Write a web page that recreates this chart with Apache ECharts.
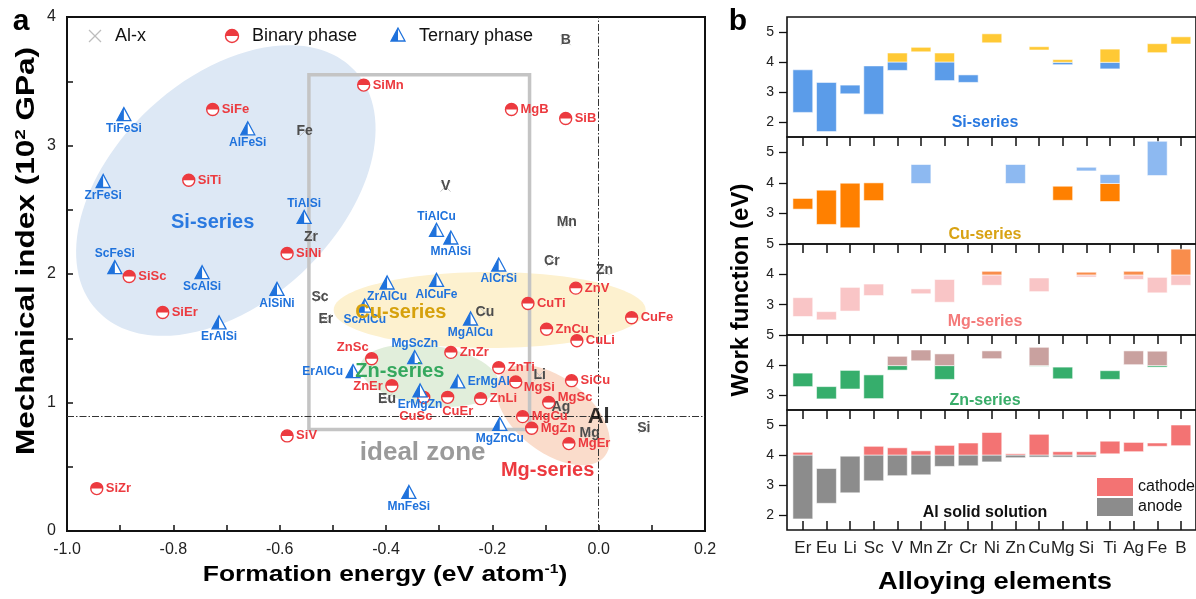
<!DOCTYPE html>
<html>
<head>
<meta charset="utf-8">
<script src="https://cdn.jsdelivr.net/npm/echarts@6/dist/echarts.min.js"></script>
<style>
  html, body { margin: 0; padding: 0; background: #fff; }
  #main { width: 1196px; height: 599px; }
</style>
</head>
<body>
<div id="main"></div>
<script>
const FONT = '"Liberation Sans", Arial, sans-serif';
const RED = '#ec3a3f';
const BLUE = '#1f72dc';

// ---------- panel a: formation energy vs mechanical index ----------
const alxNames  = ['B', 'Fe', 'V', 'Mn', 'Zr', 'Cr', 'Zn', 'Sc', 'Er', 'Cu', 'Li', 'Eu', 'Ag', 'Mg', 'Si'];
const alxEnergy = [-0.062, -0.553, -0.288, -0.060, -0.541, -0.088, 0.011, -0.524, -0.513, -0.214, -0.111, -0.398, -0.071, -0.017, 0.085];
const alxIndex  = [3.82, 3.11, 2.68, 2.40, 2.29, 2.10, 2.03, 1.82, 1.65, 1.70, 1.21, 1.03, 0.96, 0.76, 0.80];

const binaryNames  = ['SiMn', 'SiFe', 'SiTi', 'SiNi', 'SiSc', 'SiEr', 'MgB', 'SiB', 'ZnV', 'CuTi', 'CuFe', 'ZnCu', 'CuLi', 'ZnSc',
                      'ZnZr', 'ZnTi', 'ZnEr', 'MgSi', 'SiCu', 'CuSc', 'CuEr', 'ZnLi', 'MgSc', 'MgCu', 'MgZn', 'MgEr', 'SiV', 'SiZr'];
const binaryEnergy = [-0.442, -0.726, -0.771, -0.586, -0.883, -0.820, -0.164, -0.062, -0.043, -0.133, 0.062, -0.098, -0.041, -0.427,
                      -0.278, -0.188, -0.389, -0.156, -0.051, -0.329, -0.284, -0.222, -0.094, -0.143, -0.126, -0.056, -0.586, -0.944];
const binaryIndex  = [3.47, 3.28, 2.73, 2.16, 1.98, 1.70, 3.28, 3.21, 1.89, 1.77, 1.66, 1.57, 1.48, 1.34,
                      1.39, 1.27, 1.13, 1.16, 1.17, 1.04, 1.04, 1.03, 1.00, 0.89, 0.80, 0.68, 0.74, 0.33];

const ternaryNames  = ['TiFeSi', 'AlFeSi', 'ZrFeSi', 'TiAlSi', 'ScFeSi', 'ScAlSi', 'AlSiNi', 'ErAlSi', 'TiAlCu', 'MnAlSi', 'AlCrSi',
                       'ZrAlCu', 'AlCuFe', 'ScAlCu', 'MgAlCu', 'MgScZn', 'ErAlCu', 'ErMgAl', 'ErMgZn', 'MgZnCu', 'MnFeSi'];
const ternaryEnergy = [-0.893, -0.660, -0.932, -0.554, -0.910, -0.746, -0.605, -0.714, -0.305, -0.278, -0.188,
                       -0.398, -0.305, -0.440, -0.241, -0.346, -0.462, -0.265, -0.336, -0.186, -0.357];
const ternaryIndex  = [3.24, 3.13, 2.72, 2.44, 2.05, 2.01, 1.88, 1.62, 2.34, 2.28, 2.07,
                       1.93, 1.95, 1.75, 1.65, 1.35, 1.24, 1.16, 1.09, 0.83, 0.30];

const alRef = [0, 0.89];                       // pure Al reference (dash-dot cross)
const idealZone = [-0.545, -0.13, 0.79, 3.55]; // xmin, xmax, ymin, ymax

const regionNames   = ['Si-series', 'Cu-series', 'Zn-series', 'Mg-series'];
const regionCenterX = [-0.701, -0.205, -0.318, -0.086];
const regionCenterY = [2.65, 1.72, 1.21, 0.90];

const regionTextNames = ['Si-series', 'Cu-series', 'Zn-series', 'Mg-series', 'ideal zone'];
const regionTextX     = [-0.726, -0.372, -0.374, -0.096, -0.331];
const regionTextY     = [2.40, 1.70, 1.245, 0.47, 0.61];

// ---------- panel b: work function ranges ----------
const elements = ['Er', 'Eu', 'Li', 'Sc', 'V', 'Mn', 'Zr', 'Cr', 'Ni', 'Zn', 'Cu', 'Mg', 'Si', 'Ti', 'Ag', 'Fe', 'B'];

const siAnode   = [[2.32, 3.74], [1.68, 3.32], [2.94, 3.23], [2.26, 3.87], [3.72, 4.00], null, [3.38, 4.00], [3.32, 3.57], null, null, null, [3.91, 3.99], null, [3.77, 3.99], null, null, null];
const siCathode = [null, null, null, null, [4.00, 4.30], [4.34, 4.49], [4.00, 4.30], null, [4.64, 4.94], null, [4.40, 4.51], [3.99, 4.08], null, [3.99, 4.43], null, [4.31, 4.61], [4.60, 4.84]];
const cuAnode   = [[3.14, 3.49], [2.64, 3.76], [2.53, 3.99], [3.42, 4.00], null, null, null, null, null, null, null, [3.43, 3.89], null, [3.39, 3.98], null, null, null];
const cuCathode = [null, null, null, null, null, [3.98, 4.60], null, null, null, [3.98, 4.60], null, null, [4.39, 4.51], [3.98, 4.27], null, [4.24, 5.36], null];
const mgAnode   = [[2.61, 3.23], [2.50, 2.77], [2.79, 3.57], [3.30, 3.68], null, [3.36, 3.52], [3.08, 3.83], null, [3.64, 3.98], null, [3.43, 3.88], null, [3.91, 3.98], null, [3.83, 3.98], [3.39, 3.90], [3.64, 3.98]];
const mgCathode = [null, null, null, null, null, null, null, null, [3.98, 4.10], null, null, null, [3.98, 4.07], null, [3.98, 4.10], null, [3.98, 4.83]];
const znAnode   = [[3.28, 3.73], [2.87, 3.28], [3.20, 3.82], [2.88, 3.67], [3.83, 3.98], null, [3.52, 3.98], null, null, null, [3.96, 3.98], [3.54, 3.93], null, [3.52, 3.81], null, [3.93, 3.98], null];
const znCathode = [null, null, null, null, [3.98, 4.29], [4.14, 4.50], [3.98, 4.37], null, [4.21, 4.47], null, [3.98, 4.59], null, null, null, [4.01, 4.47], [3.98, 4.46], null];
const alAnode   = [[1.87, 4.00], [2.39, 3.55], [2.74, 3.96], [3.14, 4.00], [3.31, 4.00], [3.34, 4.00], [3.62, 4.00], [3.64, 4.00], [3.77, 4.00], [3.91, 4.00], [3.93, 4.00], [3.93, 4.00], [3.93, 4.00], null, null, null, null];
const alCathode = [[4.00, 4.09], null, null, [4.00, 4.29], [4.00, 4.24], [4.00, 4.14], [4.00, 4.32], [4.00, 4.40], [4.00, 4.75], [4.00, 4.04], [4.00, 4.69], [4.00, 4.11], [4.00, 4.11], [4.04, 4.46], [4.11, 4.42], [4.29, 4.40], [4.31, 5.00]];

const panelMin = [1.5, 2, 2, 2.5, 1.5];
const panelMax = [5.5, 5.5, 5, 5, 5.5];
const panelTickLabels = [[2, 3, 4, 5], [3, 4, 5], [3, 4, 5], [3, 4, 5], [2, 3, 4, 5]];
const panelMinorTicks = [[2.5, 3.5, 4.5], [2.5, 3.5, 4.5], [2.5, 3.5, 4.5], [3.5, 4.5], [2.5, 3.5, 4.5]];

// ---------- styles ----------
const binaryLabelPos = {
  ZnSc: [-3, -11, 'right'], ZnEr: [-9, 1, 'right'], MgSi: [8, 5, 'left'], CuSc: [-8, 19, 'center'],
  CuEr: [10, 14, 'center'], MgSc: [9, -5, 'left']
};
const ternaryLabelPos = {
  TiAlSi: 'top', ScFeSi: 'top', TiAlCu: 'top', MgScZn: 'top', ErAlCu: 'left', ErMgAl: 'right'
};
const regionStyle = {
  'Si-series': {rx: 176, ry: 112, rot: 43, fill: '#dde8f5'},
  'Cu-series': {rx: 156, ry: 38, rot: 0, fill: '#fdf1cf'},
  'Zn-series': {rx: 70, ry: 30, rot: -8, fill: '#e1eedb'},
  'Mg-series': {rx: 66, ry: 37, rot: -38, fill: '#fadccb'}
};
const regionTextColor = {
  'Si-series': '#2a79e0', 'Cu-series': '#d6a10c', 'Zn-series': '#35a85e', 'Mg-series': '#ec3a3f', 'ideal zone': '#9a9a9a'
};
const panels = [
  {anode: siAnode, cathode: siCathode, anodeColor: '#5b9ce9', cathodeColor: '#ffc935', title: 'Si-series', titleColor: '#2a79e0'},
  {anode: cuAnode, cathode: cuCathode, anodeColor: '#ff8000', cathodeColor: '#8db9f1', title: 'Cu-series', titleColor: '#d8a213'},
  {anode: mgAnode, cathode: mgCathode, anodeColor: '#f9c5c6', cathodeColor: '#f98d4c', title: 'Mg-series', titleColor: '#f47a7a'},
  {anode: znAnode, cathode: znCathode, anodeColor: '#36ae6c', cathodeColor: '#c9a19f', title: 'Zn-series', titleColor: '#3aad6a'},
  {anode: alAnode, cathode: alCathode, anodeColor: '#8c8c8c', cathodeColor: '#f37373', title: 'Al solid solution', titleColor: '#111'}
];
const panelTop = [17, 137, 244, 335, 410];
const panelHeight = [120, 107, 91, 75, 120];

// ---------- render helpers ----------
function ellipseItem(params, api) {
  const s = regionStyle[regionNames[params.dataIndex]];
  const p = api.coord([api.value(0), api.value(1)]);
  return {
    type: 'ellipse', x: p[0], y: p[1], rotation: s.rot * Math.PI / 180,
    shape: {cx: 0, cy: 0, rx: s.rx, ry: s.ry}, style: {fill: s.fill}
  };
}
function zoneItem(params, api) {
  const a = api.coord([api.value(0), api.value(3)]);
  const b = api.coord([api.value(1), api.value(2)]);
  return {
    type: 'rect', shape: {x: a[0], y: a[1], width: b[0] - a[0], height: b[1] - a[1]},
    style: {fill: 'none', stroke: '#c4c4c4', lineWidth: 3.5}
  };
}
function alxItem(params, api) {
  const p = api.coord([api.value(0), api.value(1)]);
  const name = alxNames[params.dataIndex];
  return {type: 'group', children: [
    {type: 'line', shape: {x1: p[0] - 5, y1: p[1] - 5, x2: p[0] + 5, y2: p[1] + 5}, style: {stroke: '#c2c2c2', lineWidth: 1}},
    {type: 'line', shape: {x1: p[0] - 5, y1: p[1] + 5, x2: p[0] + 5, y2: p[1] - 5}, style: {stroke: '#c2c2c2', lineWidth: 1}},
    {type: 'text', x: p[0], y: p[1], style: {text: name, fill: '#4d4d4d', font: 'bold 14px ' + FONT, align: 'center', verticalAlign: 'middle'}}
  ]};
}
function binaryItem(params, api) {
  const p = api.coord([api.value(0), api.value(1)]);
  const name = binaryNames[params.dataIndex];
  const lp = binaryLabelPos[name] || [9, 0, 'left'];
  return {type: 'group', children: [
    {type: 'circle', shape: {cx: p[0], cy: p[1], r: 6}, style: {fill: '#fff', stroke: RED, lineWidth: 1.4}},
    {type: 'sector', shape: {cx: p[0], cy: p[1], r0: 0, r: 6, startAngle: Math.PI, endAngle: Math.PI * 2, clockwise: true}, style: {fill: RED}},
    {type: 'text', x: p[0] + lp[0], y: p[1] + lp[1], style: {text: name, fill: RED, font: 'bold 13px ' + FONT, align: lp[2], verticalAlign: 'middle'}}
  ]};
}
function ternaryItem(params, api) {
  const p = api.coord([api.value(0), api.value(1)]);
  const name = ternaryNames[params.dataIndex];
  const pos = ternaryLabelPos[name] || 'bottom';
  const lp = {bottom: [0, 14, 'center'], top: [0, -14, 'center'], left: [-10, 0, 'right'], right: [10, 0, 'left']}[pos];
  const x = p[0], y = p[1];
  return {type: 'group', children: [
    {type: 'polygon', shape: {points: [[x, y - 7], [x - 7, y + 6], [x + 7, y + 6]]}, style: {fill: '#fff', stroke: BLUE, lineWidth: 1.3}},
    {type: 'polygon', shape: {points: [[x, y - 7], [x - 7, y + 6], [x, y + 6]]}, style: {fill: BLUE}},
    {type: 'text', x: x + lp[0], y: y + lp[1], style: {text: name, fill: BLUE, font: 'bold 12px ' + FONT, align: lp[2], verticalAlign: 'middle'}}
  ]};
}
function regionTextItem(params, api) {
  const p = api.coord([api.value(0), api.value(1)]);
  const name = regionTextNames[params.dataIndex];
  const big = name === 'ideal zone';
  return {type: 'text', x: p[0], y: p[1], style: {
    text: name, fill: regionTextColor[name], font: 'bold ' + (big ? 26 : 20) + 'px ' + FONT,
    align: 'center', verticalAlign: 'middle'
  }};
}
function barItem(params, api) {
  const i = api.value(0);
  const a = api.coord([i - 0.42, api.value(2)]);
  const b = api.coord([i + 0.42, api.value(1)]);
  return {
    type: 'rect', shape: {x: a[0], y: a[1], width: b[0] - a[0], height: b[1] - a[1]},
    style: {fill: api.visual('color'), stroke: 'rgba(255,255,255,0.55)', lineWidth: 1}
  };
}
function toRows(arr) {
  return arr.map((d, i) => d ? [i, d[0], d[1]] : null).filter(Boolean);
}

// ---------- grids & axes ----------
const grids = [{left: 67, top: 17, width: 638, height: 514, show: true, borderColor: '#111', borderWidth: 2}];
const xAxes = [{
  gridIndex: 0, type: 'value', min: -1, max: 0.2, interval: 0.1,
  axisLine: {show: true, onZero: false, lineStyle: {color: '#111', width: 2}},
  axisTick: {inside: true, length: 6, lineStyle: {color: '#111', width: 1.5}},
  axisLabel: {fontSize: 16, color: '#222', fontFamily: FONT, margin: 11,
    formatter: v => (Math.round(v * 10) % 2 === 0 ? v.toFixed(1) : '')},
  splitLine: {show: false}
}];
const yAxes = [{
  gridIndex: 0, type: 'value', min: 0, max: 4, interval: 0.5,
  axisLine: {show: true, onZero: false, lineStyle: {color: '#111', width: 2}},
  axisTick: {inside: true, length: 6, lineStyle: {color: '#111', width: 1.5}},
  axisLabel: {fontSize: 16, color: '#222', fontFamily: FONT, margin: 11,
    formatter: v => (Number.isInteger(v) ? String(v) : '')},
  splitLine: {show: false}
}];

const series = [
  {type: 'custom', xAxisIndex: 0, yAxisIndex: 0, z: 1, silent: true, renderItem: ellipseItem,
   data: regionNames.map((n, i) => [regionCenterX[i], regionCenterY[i]])},
  {type: 'custom', xAxisIndex: 0, yAxisIndex: 0, z: 2, silent: true, renderItem: zoneItem,
   data: [idealZone]},
  {type: 'scatter', xAxisIndex: 0, yAxisIndex: 0, z: 3, silent: true, symbolSize: 0, data: [alRef],
   markLine: {silent: true, symbol: 'none', label: {show: false},
     lineStyle: {color: '#333', width: 1, type: [7, 2, 1.5, 2]},
     data: [{yAxis: alRef[1]}, {xAxis: alRef[0]}]}},
  {type: 'custom', xAxisIndex: 0, yAxisIndex: 0, z: 4, silent: true, renderItem: alxItem,
   data: alxNames.map((n, i) => [alxEnergy[i], alxIndex[i]])},
  {type: 'custom', xAxisIndex: 0, yAxisIndex: 0, z: 5, silent: true, renderItem: binaryItem,
   data: binaryNames.map((n, i) => [binaryEnergy[i], binaryIndex[i]])},
  {type: 'custom', xAxisIndex: 0, yAxisIndex: 0, z: 5, silent: true, renderItem: ternaryItem,
   data: ternaryNames.map((n, i) => [ternaryEnergy[i], ternaryIndex[i]])},
  {type: 'custom', xAxisIndex: 0, yAxisIndex: 0, z: 6, silent: true, renderItem: regionTextItem,
   data: regionTextNames.map((n, i) => [regionTextX[i], regionTextY[i]])},
  {type: 'scatter', xAxisIndex: 0, yAxisIndex: 0, z: 7, silent: true, symbolSize: 0, data: [alRef],
   label: {show: true, formatter: 'Al', position: 'inside', color: '#000', fontSize: 22, fontWeight: 'bold', fontFamily: FONT}}
];

const idx = [...elements.keys()];
panels.forEach((p, k) => {
  const g = k + 1;
  const last = k === panels.length - 1;
  grids.push({left: 787, top: panelTop[k], width: 412, height: panelHeight[k], show: true, borderColor: '#111', borderWidth: 1.6});
  xAxes.push({
    gridIndex: g, type: 'value', min: -0.67, max: 16.64,
    axisLine: {show: false, onZero: false}, splitLine: {show: false},
    axisTick: {customValues: idx, inside: last, length: 9, lineStyle: {color: '#111', width: 1.5}},
    axisLabel: last
      ? {customValues: idx, formatter: v => elements[Math.round(v)], fontSize: 17, color: '#222', fontFamily: FONT, margin: 10}
      : {show: false}
  });
  const ya = yAxes.length;
  yAxes.push({
    gridIndex: g, type: 'value', min: panelMin[k], max: panelMax[k],
    axisLine: {show: false, onZero: false}, splitLine: {show: false},
    axisTick: {customValues: panelTickLabels[k], length: 8, lineStyle: {color: '#111', width: 1.3}},
    axisLabel: {customValues: panelTickLabels[k], fontSize: 14, color: '#222', fontFamily: FONT, margin: 13}
  });
  yAxes.push({
    gridIndex: g, type: 'value', min: panelMin[k], max: panelMax[k],
    axisLine: {show: false, onZero: false}, splitLine: {show: false}, axisLabel: {show: false},
    axisTick: {customValues: panelMinorTicks[k], length: 4, lineStyle: {color: '#111', width: 1.2}}
  });
  series.push({type: 'custom', xAxisIndex: g, yAxisIndex: ya, silent: true, renderItem: barItem,
    itemStyle: {color: p.anodeColor}, encode: {x: 0, y: [1, 2]}, data: toRows(p.anode)});
  series.push({type: 'custom', xAxisIndex: g, yAxisIndex: ya, silent: true, renderItem: barItem,
    itemStyle: {color: p.cathodeColor}, encode: {x: 0, y: [1, 2]}, data: toRows(p.cathode)});
});

// ---------- texts, legends ----------
const graphic = [
  {type: 'text', x: 21, y: 22, z: 50, style: {text: 'a', font: 'bold 30px ' + FONT, fill: '#000', align: 'center', verticalAlign: 'middle'}},
  {type: 'text', x: 738, y: 22, z: 50, style: {text: 'b', font: 'bold 30px ' + FONT, fill: '#000', align: 'center', verticalAlign: 'middle'}},
  {type: 'text', x: 27, y: 251, rotation: Math.PI / 2, scaleX: 1.26, z: 50, style: {
    text: 'Mechanical index (10{sup|2} GPa)', font: 'bold 25px ' + FONT, fill: '#000', align: 'center', verticalAlign: 'middle',
    rich: {sup: {fontSize: 15, fontWeight: 'bold', fontFamily: FONT, fill: '#000', padding: [0, 0, 12, 0]}}}},
  {type: 'text', x: 385, y: 575, scaleX: 1.2, z: 50, style: {
    text: 'Formation energy (eV atom{sup|-1})', font: 'bold 22px ' + FONT, fill: '#000', align: 'center', verticalAlign: 'middle',
    rich: {sup: {fontSize: 13, fontWeight: 'bold', fontFamily: FONT, fill: '#000', padding: [0, 0, 11, 0]}}}},
  {type: 'text', x: 741, y: 290, rotation: Math.PI / 2, z: 50, style: {
    text: 'Work function (eV)', font: 'bold 24px ' + FONT, fill: '#000', align: 'center', verticalAlign: 'middle'}},
  {type: 'text', x: 995, y: 582, scaleX: 1.14, z: 50, style: {
    text: 'Alloying elements', font: 'bold 24px ' + FONT, fill: '#000', align: 'center', verticalAlign: 'middle'}},
  // legend of panel a
  {type: 'line', z: 50, shape: {x1: 89, y1: 30, x2: 101, y2: 42}, style: {stroke: '#bdbdbd', lineWidth: 1.2}},
  {type: 'line', z: 50, shape: {x1: 89, y1: 42, x2: 101, y2: 30}, style: {stroke: '#bdbdbd', lineWidth: 1.2}},
  {type: 'text', x: 115, y: 36, z: 50, style: {text: 'Al-x', font: '18px ' + FONT, fill: '#111', verticalAlign: 'middle'}},
  {type: 'circle', z: 50, shape: {cx: 232, cy: 36, r: 6.5}, style: {fill: '#fff', stroke: RED, lineWidth: 1.4}},
  {type: 'sector', z: 50, shape: {cx: 232, cy: 36, r0: 0, r: 6.5, startAngle: Math.PI, endAngle: Math.PI * 2, clockwise: true}, style: {fill: RED}},
  {type: 'text', x: 252, y: 36, z: 50, style: {text: 'Binary phase', font: '18px ' + FONT, fill: '#111', verticalAlign: 'middle'}},
  {type: 'polygon', z: 50, shape: {points: [[398, 28], [391, 41], [405, 41]]}, style: {fill: '#fff', stroke: BLUE, lineWidth: 1.3}},
  {type: 'polygon', z: 50, shape: {points: [[398, 28], [391, 41], [398, 41]]}, style: {fill: BLUE}},
  {type: 'text', x: 419, y: 36, z: 50, style: {text: 'Ternary phase', font: '18px ' + FONT, fill: '#111', verticalAlign: 'middle'}},
  // legend of panel b
  {type: 'rect', z: 50, shape: {x: 1097, y: 478, width: 36, height: 18}, style: {fill: '#f37373'}},
  {type: 'rect', z: 50, shape: {x: 1097, y: 498, width: 36, height: 18}, style: {fill: '#8c8c8c'}},
  {type: 'text', x: 1138, y: 487, z: 50, style: {text: 'cathode', font: '16px ' + FONT, fill: '#111', verticalAlign: 'middle'}},
  {type: 'text', x: 1138, y: 507, z: 50, style: {text: 'anode', font: '16px ' + FONT, fill: '#111', verticalAlign: 'middle'}}
];
const panelTitleY = [123, 235, 322, 401, 513];
panels.forEach((p, k) => {
  graphic.push({type: 'text', x: 985, y: panelTitleY[k], z: 50, style: {
    text: p.title, font: 'bold 16px ' + FONT, fill: p.titleColor, align: 'center', verticalAlign: 'middle'}});
});

const chart = echarts.init(document.getElementById('main'), null, {renderer: 'canvas'});
chart.setOption({
  animation: false,
  backgroundColor: '#fff',
  textStyle: {fontFamily: FONT},
  grid: grids,
  xAxis: xAxes,
  yAxis: yAxes,
  series: series,
  graphic: graphic
});
</script>
</body>
</html>
